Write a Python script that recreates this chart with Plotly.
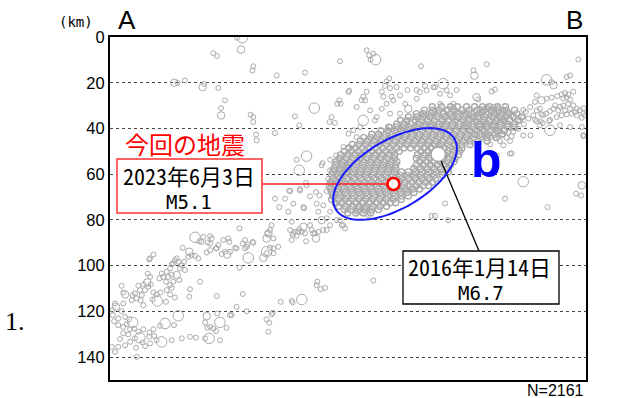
import numpy as np
import plotly.graph_objects as go

# ---- axes (km) ----
X_MAX = 208.25          # horizontal distance along A-B
Z_MAX = 150             # depth
depth_ticks = [0, 20, 40, 60, 80, 100, 120, 140]
n_label = "N=2161"

# ---- hypocentres (x along section, depth), grouped by magnitude class ----
quakes_small = [
    (55.6, 0.3), (45.2, 7.1), (46.8, 8.3), (29.6, 20.1), (32.8, 19.0), (41.2, 20.5), (47.4, 22.3),
    (50.3, 27.7), (48.6, 31.1), (62.7, 12.8), (62.3, 14.6), (72.9, 16.8), (85.3, 15.6), (100.6, 10.6),
    (104.3, 24.1), (100.3, 27.7), (99.4, 29.2), (100.9, 29.2), (80.9, 34.7), (61.5, 34.0), (62.7, 35.0),
    (62.7, 37.2), (97.0, 35.0), (96.0, 37.2), (98.4, 37.6), (82.8, 38.6), (72.2, 42.0), (63.9, 42.7),
    (64.2, 45.2), (104.3, 42.3), (102.1, 48.1), (104.3, 48.9), (98.9, 51.8), (96.3, 53.7), (99.9, 53.7),
    (81.7, 53.7), (92.6, 56.1), (93.0, 55.1), (100.6, 57.6), (102.8, 56.1), (96.3, 58.3), (99.2, 59.8),
    (85.8, 63.7), (78.4, 67.2), (83.1, 66.5), (86.0, 64.9), (83.1, 67.1), (78.8, 67.4), (72.2, 70.7),
    (76.6, 70.7), (80.2, 72.9), (87.5, 69.7), (90.1, 67.8), (91.6, 69.3), (94.8, 67.4), (97.7, 70.0),
    (100.6, 68.5), (102.8, 71.5), (99.2, 72.9), (90.4, 72.9), (93.3, 73.6), (84.6, 74.4), (74.1, 74.4),
    (95.5, 62.0), (98.4, 62.7), (101.4, 64.2), (96.3, 64.2),
    # shallow part above the main cluster
    (112.3, 5.8), (113.4, 8.0), (115.2, 7.3), (114.0, 9.9), (136.1, 12.8), (164.8, 11.9), (204.9, 9.8),
    (159.0, 14.6), (167.0, 23.8), (168.4, 23.0), (193.2, 19.7), (199.8, 17.5), (201.3, 16.8),
    (122.2, 18.1), (121.0, 19.5), (120.3, 21.4), (122.5, 22.4), (118.9, 23.9), (119.6, 26.1),
    (123.2, 26.1), (130.1, 23.2), (134.1, 23.2), (137.8, 21.4), (142.2, 22.0), (151.7, 23.2),
    (104.7, 23.5), (112.3, 23.9), (110.8, 26.1), (110.1, 27.6), (150.2, 30.8), (151.7, 32.7),
    (161.1, 27.3), (180.8, 31.9), (186.7, 32.2), (189.6, 34.1), (192.5, 36.3), (198.3, 26.8),
    (202.7, 23.9), (207.1, 31.2), (207.1, 42.9), (125.4, 21.9), (126.9, 25.5), (123.9, 27.7),
    (129.1, 29.2), (134.2, 27.0), (135.6, 24.1), (138.5, 23.3), (141.5, 21.9), (144.4, 24.8),
    (147.3, 23.3), (148.8, 25.5), (150.2, 29.2), (154.6, 32.8), (144.4, 29.2), (142.2, 32.1),
    (140.0, 35.0), (136.3, 33.5), (133.4, 36.5), (129.8, 36.5), (126.9, 33.5), (122.5, 33.5),
    (118.9, 31.4), (116.7, 35.0), (115.9, 36.5), (107.9, 30.6), (111.6, 27.7), (106.5, 40.8),
    (109.4, 39.4), (122.5, 39.4), (128.3, 39.4), (134.2, 39.4), (140.0, 38.6), (145.1, 37.9),
    (151.7, 36.5), (155.3, 37.9), (121.0, 29.2), (113.8, 32.1), (107.9, 43.8),
    # eastern group near B
    (194.7, 29.9), (196.9, 30.6), (198.3, 29.9), (196.1, 32.1), (199.1, 32.1), (201.3, 31.4),
    (202.7, 29.9), (204.2, 31.4), (205.6, 32.1), (207.1, 33.3), (202.0, 33.5), (204.2, 34.3),
    (199.8, 33.8), (197.6, 34.3), (195.4, 35.0), (207.8, 34.3), (206.4, 35.3), (203.4, 32.8),
    (200.5, 29.2), (194.0, 31.4), (192.5, 32.4), (190.8, 33.5), (185.9, 28.4), (183.8, 30.6),
    (181.9, 32.8), (180.8, 35.0), (183.0, 35.7), (185.2, 34.3), (188.1, 31.4), (188.8, 33.8),
    (186.7, 36.8), (188.1, 38.6), (192.2, 36.8), (189.3, 37.6), (196.9, 38.6), (201.3, 39.4),
    (206.4, 39.4), (207.1, 43.4), (186.7, 25.5), (191.0, 27.0), (193.2, 26.5), (195.7, 25.9),
    (197.6, 25.1), (199.1, 24.5), (200.5, 25.1), (199.8, 26.5), (201.3, 27.4),
    # band between the cluster and B
    (157.5, 35.7), (159.0, 35.0), (161.1, 33.5), (162.6, 32.8), (164.1, 32.1), (165.5, 31.4),
    (167.0, 31.4), (168.4, 32.1), (169.9, 32.8), (171.4, 33.8), (166.3, 34.3), (167.7, 35.0),
    (169.2, 35.7), (170.6, 36.5), (172.1, 35.7), (173.5, 35.0), (160.4, 37.2), (161.9, 38.6),
    (163.3, 37.9), (164.8, 39.4), (166.3, 37.2), (167.7, 38.6), (169.2, 39.7), (170.6, 41.1),
    (172.1, 42.6), (173.5, 44.0), (175.0, 45.5), (174.3, 41.6), (175.7, 43.4), (157.5, 41.1),
    (159.7, 42.6), (161.9, 41.6), (164.1, 42.6), (166.3, 43.8), (168.4, 44.0), (170.6, 45.5),
    (172.1, 47.4), (166.3, 46.9), (175.0, 51.0), (169.2, 51.8), (176.5, 41.4), (176.5, 35.0),
    (179.4, 36.5), (181.1, 38.2), (178.6, 40.1), (180.8, 43.0), (184.0, 43.0), (185.9, 36.2),
    (188.4, 36.8), (161.9, 31.4), (164.8, 30.6), (167.7, 30.6), (169.9, 30.9), (172.1, 32.1),
    (174.3, 33.3), (175.7, 34.3), (172.1, 31.9),
    # scattered events east of the cluster
    (172.8, 70.7), (191.4, 74.4), (203.9, 68.5), (206.1, 69.3), (175.7, 50.9), (140.7, 78.2),
    (142.2, 78.2), (148.0, 80.1), (146.6, 72.8), (115.2, 106.5), (108.6, 74.2), (111.6, 74.9),
    (110.1, 77.1), (113.0, 77.9), (107.9, 76.4),
    # intermediate-depth band (80-100 km)
    (78.0, 76.4), (84.9, 74.9), (91.1, 76.4), (94.8, 79.3), (96.3, 76.4), (99.2, 80.1), (102.1, 82.3),
    (102.8, 83.7), (56.6, 83.7), (70.7, 82.3), (70.0, 84.4), (69.0, 85.9), (78.8, 84.4), (80.9, 85.2),
    (82.8, 84.0), (83.9, 85.2), (79.9, 86.6), (81.7, 86.9), (79.5, 88.8), (87.5, 82.3), (88.2, 84.4),
    (89.7, 85.9), (91.1, 85.2), (85.8, 89.3), (94.8, 84.4), (59.1, 88.8), (58.1, 90.3), (59.8, 91.7),
    (59.1, 92.4), (62.4, 89.6), (54.7, 92.2), (52.5, 93.9), (68.5, 94.6), (70.0, 92.2), (71.5, 92.4),
    (73.6, 91.7), (71.5, 94.6), (56.6, 100.9), (88.9, 85.9), (93.3, 84.4), (101.4, 82.3), (100.6, 80.1),
    (96.3, 82.3), (79.5, 80.8), (80.2, 85.9), (82.4, 85.2), (85.3, 85.9), (40.1, 89.6), (43.8, 90.3),
    (46.7, 92.4), (48.9, 94.9), (51.8, 88.1), (52.2, 89.6), (55.4, 92.4), (60.1, 90.7), (62.7, 90.0),
    (71.5, 88.1), (39.1, 89.3), (40.8, 87.4), (43.8, 87.1), (42.7, 89.8), (44.5, 88.1), (46.4, 92.4),
    (43.8, 93.2), (47.4, 91.0), (49.6, 88.8), (50.3, 93.9), (42.3, 94.2), (31.8, 92.2), (35.7, 95.4),
    (37.2, 95.7), (38.6, 96.8), (34.3, 96.1), (29.2, 96.8), (29.9, 98.3), (27.7, 99.0), (28.4, 97.6),
    (31.4, 99.8), (32.4, 98.3), (30.6, 101.2), (32.8, 101.9), (26.3, 101.2), (27.0, 99.4), (24.8, 102.7),
    (17.5, 96.8), (19.0, 95.1), (17.2, 97.3), (22.6, 103.4), (23.3, 104.9), (25.5, 104.9), (27.0, 104.1),
    (21.6, 105.6), (24.5, 107.0), (27.7, 107.0), (30.3, 106.3), (16.5, 103.4), (17.5, 104.9),
    (14.6, 108.2), (16.8, 109.2), (17.8, 108.2), (15.3, 110.7), (12.4, 108.8), (13.1, 110.7),
    (10.9, 112.1), (13.9, 112.9), (11.7, 114.3), (9.9, 112.9), (9.5, 115.1), (13.4, 115.1),
    (14.6, 117.3), (5.8, 111.7), (5.1, 108.8), (19.0, 111.7), (20.4, 112.6), (22.1, 111.7),
    (18.7, 114.8), (24.5, 115.8), (27.0, 109.7), (26.3, 112.6), (35.0, 110.3), (34.7, 113.6),
    (39.4, 107.0), (28.4, 113.9), (24.8, 110.7), (26.3, 108.5), (90.7, 107.0), (90.4, 108.5),
    (92.2, 110.3), (94.1, 109.7),
    # deep part near A
    (2.2, 116.5), (1.2, 119.4), (5.8, 116.5), (5.1, 119.9), (3.6, 123.1), (6.6, 122.4), (8.4, 123.4),
    (7.3, 125.6), (5.8, 126.8), (10.5, 127.5), (12.4, 128.9), (14.6, 127.8), (17.2, 129.2),
    (19.0, 127.8), (21.9, 126.3), (28.0, 126.0), (31.4, 131.8), (35.0, 131.1), (37.6, 131.5),
    (41.6, 131.8), (48.1, 132.6), (46.4, 128.6), (45.2, 127.5), (43.8, 126.8), (46.9, 120.9),
    (41.6, 124.8), (14.3, 133.6), (8.8, 133.3), (6.6, 134.8), (4.4, 132.1), (11.4, 135.9),
    (15.3, 135.2), (17.5, 134.0), (20.4, 132.6), (27.0, 132.6), (0.7, 135.5), (2.2, 137.7),
    (3.6, 135.5), (11.7, 139.9), (1.2, 121.6), (1.8, 124.3), (3.6, 126.0), (8.8, 127.8), (8.0, 130.1),
    (5.8, 129.6), (10.9, 131.8), (17.2, 131.1), (19.3, 130.7), (46.7, 113.3), (42.6, 127.2),
    (51.0, 127.2), (52.5, 121.6), (55.4, 118.0), (58.1, 112.4), (59.8, 119.9), (68.5, 123.5),
    (69.7, 125.0), (69.3, 128.9), (71.2, 120.6), (74.7, 115.8), (79.5, 115.4), (79.9, 116.1),
    (53.2, 121.6), (70.7, 121.3),
]

quakes_mid = [
    (28.1, 20.0), (40.5, 21.9), (48.6, 34.3), (57.3, 5.5), (130.5, 31.4), (188.8, 27.7),
    (194.0, 21.1), (159.4, 16.9), (160.4, 26.3), (206.4, 64.9), (92.6, 80.1), (68.5, 88.1),
    (90.1, 88.1), (67.1, 96.6), (69.3, 85.9), (84.6, 83.0), (51.3, 95.1), (34.7, 93.9),
    (29.2, 104.1), (16.3, 107.3), (6.6, 112.6), (2.6, 118.0), (42.3, 122.1),
]

quakes_large = [
    (57.9, 0.3), (89.4, 31.1), (86.0, 52.1), (82.8, 58.3), (116.2, 9.9), (145.8, 20.4),
    (148.8, 32.8), (110.8, 36.5), (191.0, 18.7), (192.5, 40.8), (180.8, 63.3), (60.5, 96.6),
    (68.5, 93.9), (37.2, 87.6), (20.7, 115.4), (9.9, 124.8), (24.1, 125.3), (29.9, 121.9),
    (43.4, 131.8), (48.1, 124.8), (13.1, 131.5), (22.6, 133.3), (83.9, 114.8),
]

# densest part of the cluster, listed row by row (depth -> x positions)
dense_depths = [30.5, 32, 33.5, 35, 36.5, 38, 39.5, 41, 42.5, 44, 45.5, 47, 48.5, 50, 51.5, 53,
                54.5, 56, 57.5, 59, 60.5, 62, 63.5, 65, 66.5, 68, 69.5, 71, 72.5, 74, 75.5, 77]
dense_x = [
    [141, 145, 149, 152, 156, 159.5, 163, 166, 169.5, 173],
    [137.5, 141, 144, 147.5, 150.5, 154, 157, 160.5, 163.5, 167, 170, 173.5, 177],
    [134, 137, 140.5, 143.5, 146, 149, 152.5, 155.5, 158, 161.5, 164.5, 168, 171, 174.5, 178],
    [130.5, 134, 137, 140, 143, 146.5, 149.5, 152, 155, 158.5, 161, 164, 167.5, 170.5, 173, 176.5, 180],
    [127, 130, 133.5, 136.5, 139, 142, 145.5, 148, 151, 154.5, 157, 160, 163.5, 166, 169, 172.5, 175, 178.5],
    [125.5, 128.5, 131.5, 135, 138, 141, 144, 147, 150, 153, 156, 159, 162, 165, 168, 171, 174, 177],
    [122, 125, 128, 131, 134.5, 137.5, 140.5, 143.5, 146.5, 149.5, 152.5, 155.5, 158.5, 161.5, 164.5,
     167.5, 170.5, 174, 177],
    [118.5, 121.5, 124.5, 127.5, 130.5, 133.5, 136.5, 139.5, 142.5, 145.5, 148.5, 151.5, 154.5, 157.5,
     160.5, 163.5, 166.5, 169.5, 172.5],
    [114.5, 117.5, 120.5, 123.5, 126.5, 129.5, 132.5, 135.5, 138.5, 141.5, 144.5, 147.5, 150.5, 153.5,
     156.5, 159.5, 162.5, 165.5, 168.5, 171.5],
    [111, 114, 117, 120, 123, 126, 129, 132, 135, 138, 141, 144, 147, 150, 153, 156, 159, 162, 165, 169],
    [109.5, 112.5, 115.5, 118.5, 121.5, 124.5, 127.5, 130.5, 133.5, 136.5, 139.5, 142.5, 145.5, 148.5,
     151.5, 154.5, 157.5, 161, 165],
    [106, 109, 112, 115, 118, 121, 124, 127, 130, 133, 136, 139, 142, 145, 148, 151, 154, 157.5],
    [104.5, 107.5, 110.5, 113.5, 116.5, 119.5, 122.5, 125.5, 128.5, 131.5, 134.5, 137.5, 140.5, 143.5,
     146, 148.5, 151.5, 154],
    [102.5, 105.5, 108.5, 111.5, 114.5, 117.5, 120.5, 123.5, 126.5, 136, 139, 142, 145, 148, 150, 153],
    [101, 104, 107, 110, 113, 116, 119, 122, 124.5, 134.5, 137.5, 140.5, 143.5, 146.5, 149.5, 152.5],
    [100.5, 103.5, 106.5, 109.5, 112.5, 115.5, 118.5, 121.5, 124.5, 134, 137, 140, 143, 146, 148, 151],
    [99, 102, 105, 108, 111, 114, 117, 120, 123, 125.5, 135.5, 138.5, 141.5, 144.5, 147.5, 150.5],
    [98.5, 101.5, 104.5, 107.5, 110.5, 113.5, 116.5, 119.5, 122.5, 125, 134, 137, 140, 143, 146, 149],
    [98, 101, 104, 107, 110, 113, 116, 119, 122, 125, 133, 136, 139, 142, 145, 148],
    [97.5, 100.5, 103.5, 106.5, 109.5, 112.5, 115.5, 118.5, 121.5, 124.5, 127.5, 130.5, 133.5, 136.5,
     139.5, 142.5, 145.5, 148],
    [97, 100, 103, 106, 109, 112, 115, 118, 121, 124, 127, 130, 133, 136, 139, 142, 145.5],
    [97.5, 100.5, 103.5, 106.5, 109.5, 112.5, 115.5, 118.5, 121.5, 124.5, 127.5, 130.5, 133.5, 136.5,
     139.5, 142.5],
    [96.5, 99.5, 102.5, 105.5, 108.5, 111.5, 114.5, 117.5, 120.5, 123.5, 126.5, 129, 132, 135, 138, 141],
    [96, 99, 102, 105, 108, 111, 114, 117, 120, 123, 126, 128.5, 131, 134, 137, 139.5],
    [96.5, 99.5, 102.5, 105.5, 108.5, 111.5, 114.5, 117.5, 120.5, 123.5, 126.5, 129.5, 132.5, 135.5],
    [97, 100, 103, 106, 109, 112, 115, 118, 121, 124, 127, 130, 133],
    [97.5, 100.5, 103.5, 106.5, 109.5, 112.5, 115.5, 118.5, 121.5, 124.5, 127.5, 130.5],
    [97, 100, 103, 106, 109, 112, 115, 118, 121, 124, 127.5],
    [98.5, 101.5, 104.5, 107.5, 110.5, 113.5, 116.5, 119.5, 122.5, 125],
    [100, 103, 106, 109, 112, 115, 118, 121],
    [102.5, 105.5, 108.5, 111.5, 114.5, 117.5],
    [104, 107.5, 111, 114],
]

# highlighted events
event_dates = ["2023年6月3日", "2016年1月14日"]
event_mags = [5.1, 6.7]
event_x = [124.0, 143.6]
event_z = [64.3, 51.3]

GRAY = "#aaaaaa"
SANS = "Liberation Sans, Arial, sans-serif"
JP = "Noto Sans CJK JP, sans-serif"
JP_MONO = "Noto Sans Mono CJK JP, Noto Sans CJK JP, monospace"
MONO = "DejaVu Sans Mono, monospace"


def px_to_paper_x(px):
    return (px - 110) / 476.0


def px_to_paper_y(py):
    return 1 - (py - 37) / 343.0


def paper_to_data_x(p):
    return p * X_MAX


def paper_to_data_z(p):
    return (1 - p) * Z_MAX


fig = go.Figure()

dense_pts = [(x, z) for z, row in zip(dense_depths, dense_x) for x in row]
for pts, size, lw in [(dense_pts, 6, 1.4), (quakes_small, 5, 1), (quakes_mid, 7.5, 1), (quakes_large, 10.5, 1)]:
    fig.add_trace(go.Scatter(
        x=[p[0] for p in pts], y=[p[1] for p in pts], mode="markers",
        marker=dict(symbol="circle-open", size=size, color=GRAY, line=dict(width=lw)),
        hoverinfo="skip", showlegend=False,
    ))

# callout boxes (paper coordinates)
box_red = dict(x0=px_to_paper_x(117), x1=px_to_paper_x(262), y0=px_to_paper_y(213), y1=px_to_paper_y(159))
box_blk = dict(x0=px_to_paper_x(403), x1=px_to_paper_x(559), y0=px_to_paper_y(304), y1=px_to_paper_y(251))

# leader lines
red_start_x = paper_to_data_x(box_red["x1"])
fig.add_trace(go.Scatter(x=[red_start_x, event_x[0]], y=[event_z[0], event_z[0]], mode="lines",
                         line=dict(color="#ff2020", width=1.5), hoverinfo="skip", showlegend=False))
blk_end_x = paper_to_data_x(px_to_paper_x(479))
blk_end_z = paper_to_data_z(box_blk["y1"])
fig.add_trace(go.Scatter(x=[event_x[1], blk_end_x], y=[event_z[1], blk_end_z], mode="lines",
                         line=dict(color="black", width=1.3), hoverinfo="skip", showlegend=False))

# the two events
fig.add_trace(go.Scatter(x=[event_x[0]], y=[event_z[0]], mode="markers",
                         marker=dict(symbol="circle", size=12, color="white", line=dict(color="#ff0000", width=2.6)),
                         hoverinfo="skip", showlegend=False))
fig.add_trace(go.Scatter(x=[event_x[1]], y=[event_z[1]], mode="markers",
                         marker=dict(symbol="circle", size=14, color="white", line=dict(color="#9a9a9a", width=1)),
                         hoverinfo="skip", showlegend=False))

# region b ellipse
cx, cz, a, b, th = 124.7, 59.9, 30.2, 14.9, np.deg2rad(30.7)
t = np.linspace(0, 2 * np.pi, 121)
ex = cx + a * np.cos(t) * np.cos(th) + b * np.sin(t) * np.sin(th)
ez = cz - a * np.cos(t) * np.sin(th) + b * np.sin(t) * np.cos(th)
path = "M " + " L ".join(f"{x:.2f},{z:.2f}" for x, z in zip(ex, ez)) + " Z"

shapes = [
    dict(type="path", path=path, xref="x", yref="y", line=dict(color="#1a1aff", width=2)),
    dict(type="rect", xref="paper", yref="paper", **box_red, fillcolor="white",
         line=dict(color="#ff3030", width=1.5)),
    dict(type="rect", xref="paper", yref="paper", **box_blk, fillcolor="white",
         line=dict(color="black", width=1.3)),
]


def label(text, px, py, size, color="black", family=SANS, xanchor="center"):
    return dict(text=text, x=px_to_paper_x(px), y=px_to_paper_y(py), xref="paper", yref="paper",
                showarrow=False, xanchor=xanchor, yanchor="middle",
                font=dict(size=size, color=color, family=family))


annotations = [
    label("A", 127, 20, 26),
    label("B", 574, 20, 26),
    label("(km)", 76, 22, 14, family=MONO),
    label(n_label, 586, 390, 16, xanchor="right"),
    label("1.", 15, 321, 26, family="Liberation Serif, serif"),
    label("今回の地震", 185, 143, 24, color="#ff0000", family=JP),
    label(event_dates[0], 189, 175, 22, family=JP_MONO),
    label(f"M{event_mags[0]:.1f}", 189, 202, 19, family=MONO),
    label(event_dates[1], 479, 266, 22, family=JP_MONO),
    label(f"M{event_mags[1]:.1f}", 481, 293, 19, family=MONO),
    label("<b>b</b>", 486, 160, 50, color="#0000ff"),
]

tickfont = dict(family=SANS, size=16.5, color="black")
fig.update_layout(
    width=619, height=398,
    margin=dict(l=110, r=33, t=37, b=18),
    paper_bgcolor="white", plot_bgcolor="white",
    showlegend=False,
    shapes=shapes, annotations=annotations,
    xaxis=dict(range=[0, X_MAX], showgrid=False, zeroline=False, showticklabels=False, ticks="",
               showline=True, linecolor="black", linewidth=2, mirror=True, fixedrange=True),
    yaxis=dict(range=[Z_MAX, 0], tickvals=depth_ticks, showgrid=True, gridcolor="#444444",
               griddash="dot", gridwidth=1.3, zeroline=False, showline=True, linecolor="black",
               linewidth=2, mirror=True, ticks="", tickfont=tickfont, fixedrange=True),
    yaxis2=dict(range=[Z_MAX, 0], tickvals=depth_ticks, overlaying="y", side="right", showgrid=False,
                zeroline=False, showline=False, ticks="", tickfont=tickfont, fixedrange=True),
)

fig.write_html("out.html")
